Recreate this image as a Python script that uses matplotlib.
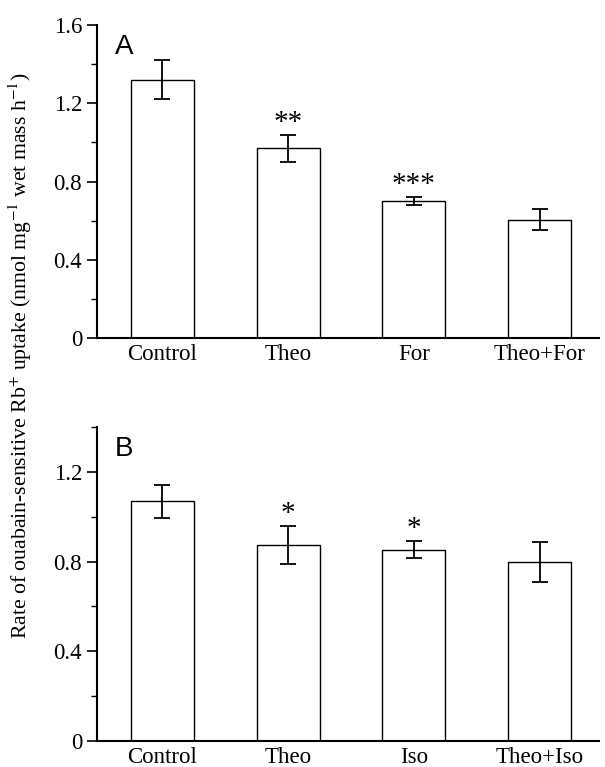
import matplotlib
matplotlib.use('Agg')
import matplotlib.pyplot as plt
from matplotlib.ticker import MultipleLocator

# Panel A data
labels_a = ['Control', 'Theo', 'For', 'Theo+For']
means_a = [1.32, 0.97, 0.70, 0.605]
errs_a = [0.10, 0.07, 0.02, 0.053]
stars_a = ['', '**', '***', '']

# Panel B data
labels_b = ['Control', 'Theo', 'Iso', 'Theo+Iso']
means_b = [1.068, 0.875, 0.853, 0.798]
errs_b = [0.075, 0.085, 0.039, 0.087]
stars_b = ['', '*', '*', '']

plt.rcParams['font.family'] = ['Liberation Serif', 'DejaVu Serif']
plt.rcParams['mathtext.fontset'] = 'stix'

fig = plt.figure(figsize=(6.05, 7.67), dpi=100)
ax_a = fig.add_axes([0.160, 0.5593, 0.830, 0.408])
ax_b = fig.add_axes([0.160, 0.0339, 0.830, 0.4094])


def draw_panel(ax, labels, means, errs, stars, ymax, letter):
    """Draws one bar panel with error bars and significance stars."""
    x = range(len(labels))
    ax.bar(x, means, width=0.5, color='white', edgecolor='black', linewidth=1.0)
    ax.errorbar(x, means, yerr=errs, fmt='none', ecolor='black',
                elinewidth=1.3, capsize=6, capthick=1.3)
    # significance stars sit just above the error bar
    for i, s in enumerate(stars):
        if s:
            ax.text(i, means[i] + errs[i] - 0.005, s, ha='center', va='bottom',
                    fontsize=21)

    ax.set_xlim(-0.52, 3.47)
    ax.set_ylim(0, ymax)
    ax.set_xticks(list(x))
    ax.set_xticklabels(labels, fontsize=16.5)
    ax.yaxis.set_major_locator(MultipleLocator(0.4))
    ax.yaxis.set_minor_locator(MultipleLocator(0.2))
    ax.yaxis.set_major_formatter(plt.FuncFormatter(lambda v, p: '0' if v == 0 else f'{v:.1f}'))
    ax.tick_params(axis='y', which='major', labelsize=16.5, length=7, width=1.2, direction='out')
    ax.tick_params(axis='y', which='minor', length=4, width=1.0, direction='out')
    ax.tick_params(axis='x', length=0, pad=4)
    for side in ['top', 'right']:
        ax.spines[side].set_visible(False)
    for side in ['left', 'bottom']:
        ax.spines[side].set_linewidth(1.5)
    ax.text(0.036, 0.97, letter, transform=ax.transAxes, ha='left', va='top',
            fontsize=20, family=['Liberation Sans', 'DejaVu Sans'])


draw_panel(ax_a, labels_a, means_a, errs_a, stars_a, 1.6, 'A')
draw_panel(ax_b, labels_b, means_b, errs_b, stars_b, 1.4, 'B')

fig.text(0.033, 0.537,
         'Rate of ouabain-sensitive Rb$^{+}$ uptake (nmol mg$^{-1}$ wet mass h$^{-1}$)',
         rotation=90, ha='center', va='center', fontsize=15.7)

fig.savefig('out.png', dpi=100)
